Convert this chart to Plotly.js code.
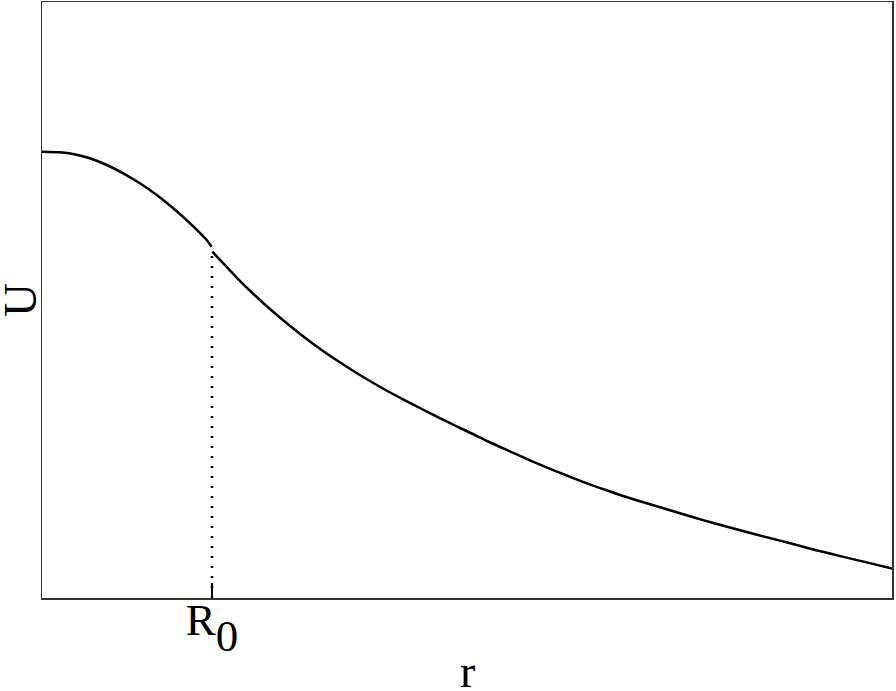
<!DOCTYPE html>
<html>
<head>
<meta charset="utf-8">
<script src="https://cdn.plot.ly/plotly-3.0.1.min.js"></script>
<style>html,body{margin:0;padding:0;background:#fff;}#chart{width:896px;height:691px;}</style>
</head>
<body>
<div id="chart"></div>
<script>
// r in units of R0, U in arbitrary units
var rInside = [0, 0.106, 0.184, 0.282, 0.381, 0.478, 0.576, 0.675, 0.772, 0.871, 0.969, 0.998];
var uInside = [4.463, 4.457, 4.44, 4.397, 4.33, 4.247, 4.147, 4.03, 3.897, 3.747, 3.58, 3.513];
var rOutside = [1.002, 1.057, 1.155, 1.253, 1.351, 1.449, 1.547, 1.645, 1.743, 1.841, 1.939, 2.037, 2.135, 2.234, 2.331, 2.429, 2.528, 2.625, 2.724, 2.822, 2.919, 3.018, 3.116, 3.214, 3.312, 3.41, 3.508, 3.606, 3.704, 3.802, 3.9, 3.998, 4.096, 4.194, 4.292, 4.39, 4.488, 4.586, 4.684, 4.782, 4.881, 5.0];
var uOutside = [3.463, 3.363, 3.187, 3.025, 2.875, 2.735, 2.603, 2.48, 2.367, 2.26, 2.16, 2.065, 1.977, 1.89, 1.807, 1.725, 1.645, 1.565, 1.488, 1.413, 1.341, 1.271, 1.205, 1.141, 1.082, 1.025, 0.973, 0.922, 0.872, 0.822, 0.774, 0.727, 0.682, 0.638, 0.595, 0.552, 0.507, 0.465, 0.424, 0.384, 0.344, 0.295];
var R0 = 1;
var uAtR0 = 3.45;
var tickVals = [R0];
var tickText = ['R<sub><sub><span style="font-size:45px">0</span></sub></sub>'];
var xTitle = 'r';
var yTitle = 'U';

var lineStyle = {color: '#000', width: 2.5, shape: 'spline', smoothing: 0.8};
var traces = [
  {x: rInside, y: uInside, mode: 'lines', line: lineStyle, hoverinfo: 'skip'},
  {x: rOutside, y: uOutside, mode: 'lines', line: lineStyle, hoverinfo: 'skip'},
  {x: [R0, R0], y: [0, uAtR0], mode: 'lines', line: {color: '#000', width: 2.5, dash: '2px,8px'}, hoverinfo: 'skip'}
];

var fam = 'Liberation Serif, Times New Roman, serif';
var font = {family: fam, size: 45, color: '#000'};
var layout = {
  width: 896, height: 691,
  margin: {l: 42, r: 4, t: 2, b: 93},
  paper_bgcolor: '#fff', plot_bgcolor: '#fff',
  showlegend: false,
  font: font,
  xaxis: {
    range: [0, 5], showgrid: false, zeroline: false,
    showline: true, mirror: true, linecolor: '#333', linewidth: 1.5,
    tickmode: 'array', tickvals: tickVals, ticktext: tickText,
    ticks: 'inside', ticklen: 15, tickwidth: 2.2, tickcolor: '#000',
    tickfont: font, ticklabelstandoff: -19
  },
  yaxis: {
    range: [0, 5.96], showgrid: false, zeroline: false,
    showline: true, mirror: true, linecolor: '#333', linewidth: 1.5,
    showticklabels: false, ticks: ''
  },
  annotations: [
    {text: xTitle, xref: 'paper', yref: 'paper', x: 0.5, y: 0, xanchor: 'center', yanchor: 'top',
     yshift: -46, showarrow: false, font: {family: fam, size: 46, color: '#000'}},
    {text: yTitle, xref: 'paper', yref: 'paper', x: 0, y: 0.5, xanchor: 'right', yanchor: 'middle',
     xshift: 6, textangle: -90, showarrow: false, font: {family: fam, size: 47, color: '#000'}}
  ]
};
Plotly.newPlot('chart', traces, layout, {staticPlot: true, displayModeBar: false});
</script>
</body>
</html>
